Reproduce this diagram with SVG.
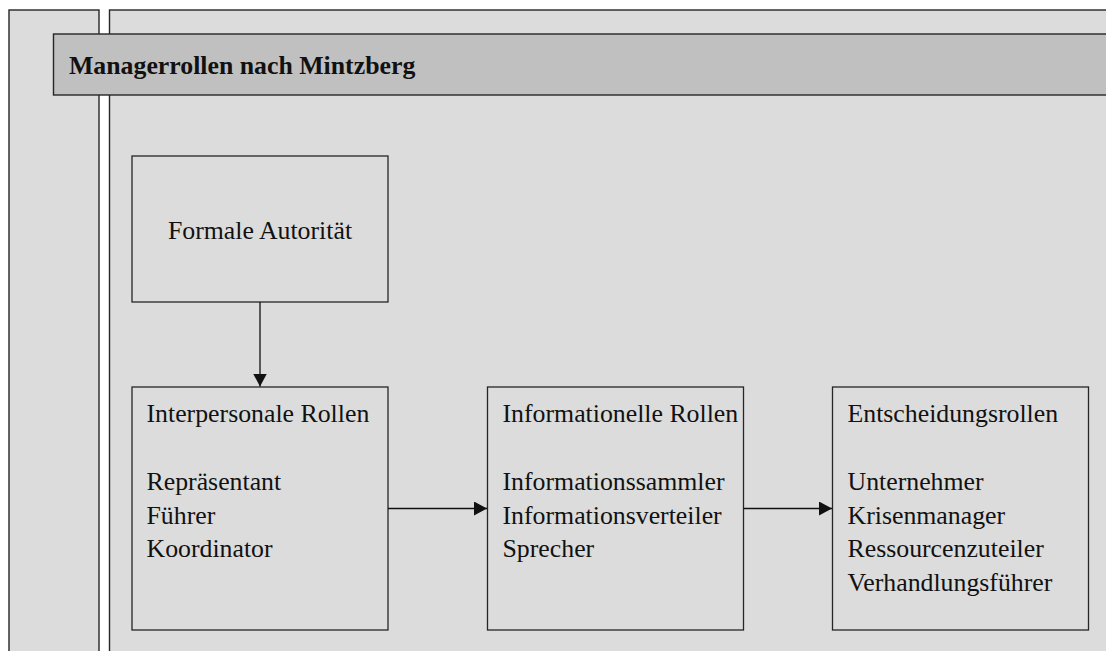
<svg xmlns="http://www.w3.org/2000/svg" width="1106" height="651" viewBox="0 0 1106 651">
<defs>
<style>
.panel{fill:#dcdcdc;stroke:#262626;stroke-width:1.4}
.box{fill:#dcdcdc;stroke:#262626;stroke-width:1.3}
.hdr{fill:#c0c0c0;stroke:#262626;stroke-width:1.4}
.t{font-family:"Liberation Serif","Times New Roman",serif;font-size:25.8px;fill:#111}
.tb{font-family:"Liberation Serif","Times New Roman",serif;font-size:25.8px;font-weight:bold;fill:#111}
.c{stroke:#111;stroke-width:1.3;fill:none}
</style>
<marker id="ah" markerWidth="13" markerHeight="14" refX="13" refY="7" orient="auto" markerUnits="userSpaceOnUse">
<path d="M0,0 L13,7 L0,14 Z" fill="#111"/>
</marker>
</defs>
<rect width="1106" height="651" fill="#ffffff"/>
<g id="background">
<rect class="panel" x="9" y="10" width="90" height="660"/>
<rect class="panel" x="109.5" y="10" width="1010" height="660"/>
</g>
<g id="header">
<rect class="hdr" x="53.5" y="34" width="1070" height="61"/>
<text class="tb" x="69" y="74">Managerrollen nach Mintzberg</text>
</g>
<g id="formale-autoritaet">
<rect class="box" x="132" y="156" width="256" height="146"/>
<text class="t" x="260" y="239" text-anchor="middle">Formale Autorität</text>
</g>
<g id="interpersonale-rollen">
<rect class="box" x="132" y="387" width="256" height="243"/>
<text class="t" x="146.5" y="422">Interpersonale Rollen</text>
<text class="t" x="146.5" y="490">Repräsentant</text>
<text class="t" x="146.5" y="523.5">Führer</text>
<text class="t" x="146.5" y="557">Koordinator</text>
</g>
<g id="informationelle-rollen">
<rect class="box" x="487.5" y="387" width="256" height="243"/>
<text class="t" x="502.5" y="422">Informationelle Rollen</text>
<text class="t" x="502.5" y="490">Informationssammler</text>
<text class="t" x="502.5" y="523.5">Informationsverteiler</text>
<text class="t" x="502.5" y="557">Sprecher</text>
</g>
<g id="entscheidungsrollen">
<rect class="box" x="832.5" y="387" width="256" height="243"/>
<text class="t" x="847.5" y="422">Entscheidungsrollen</text>
<text class="t" x="847.5" y="490">Unternehmer</text>
<text class="t" x="847.5" y="523.5">Krisenmanager</text>
<text class="t" x="847.5" y="557">Ressourcenzuteiler</text>
<text class="t" x="847.5" y="591">Verhandlungsführer</text>
</g>
<g id="connectors">
<line class="c" x1="260" y1="302" x2="260" y2="386.5" marker-end="url(#ah)"/>
<line class="c" x1="388" y1="508.5" x2="487" y2="508.5" marker-end="url(#ah)"/>
<line class="c" x1="743.5" y1="508.5" x2="832" y2="508.5" marker-end="url(#ah)"/>
</g>
</svg>
